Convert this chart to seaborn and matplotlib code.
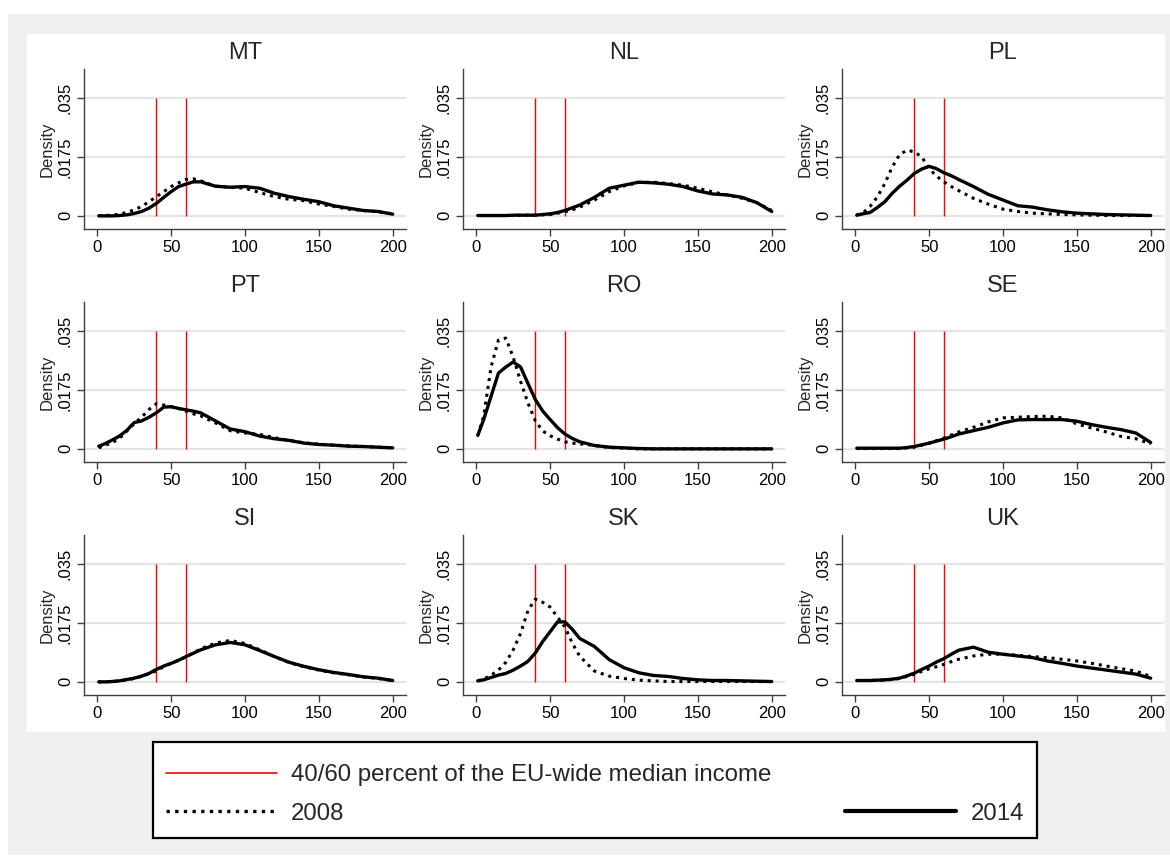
import numpy as np
import pandas as pd
import matplotlib
matplotlib.use("Agg")
import matplotlib.pyplot as plt
import seaborn as sns
from matplotlib.lines import Line2D
from matplotlib.patches import Rectangle

# ---------------- data ----------------
INCOME = [1, 5, 10, 15, 20, 25, 30, 35, 40, 45, 50, 55, 60, 65, 70,
          80, 90, 100, 110, 120, 130, 140, 150, 160, 170, 180, 190, 200]

COUNTRIES = ["MT", "NL", "PL", "PT", "RO", "SE", "SI", "SK", "UK"]
YEARS = ["2008", "2014"]

MT_2008 = [0.0001, 0.0001, 0.0002, 0.0005, 0.0010, 0.0018, 0.0028, 0.0042, 0.0057, 0.0072, 0.0087, 0.0098, 0.0108, 0.0110,
           0.0104, 0.0088, 0.0085, 0.0082, 0.0069, 0.0057, 0.0049, 0.0045, 0.0035, 0.0028, 0.0020, 0.0016, 0.0012, 0.0006]
MT_2014 = [0.0000, 0.0000, 0.0000, 0.0001, 0.0003, 0.0007, 0.0013, 0.0023, 0.0037, 0.0055, 0.0072, 0.0087, 0.0094, 0.0101,
           0.0101, 0.0088, 0.0085, 0.0087, 0.0082, 0.0067, 0.0057, 0.0049, 0.0042, 0.0030, 0.0023, 0.0016, 0.0013, 0.0005]

NL_2008 = [0.0001, 0.0001, 0.0001, 0.0001, 0.0001, 0.0001, 0.0002, 0.0002, 0.0002, 0.0003, 0.0004, 0.0008, 0.0012, 0.0018,
           0.0026, 0.0047, 0.0072, 0.0089, 0.0099, 0.0100, 0.0096, 0.0091, 0.0082, 0.0071, 0.0062, 0.0052, 0.0039, 0.0016]
NL_2014 = [0.0001, 0.0001, 0.0001, 0.0001, 0.0001, 0.0002, 0.0002, 0.0002, 0.0002, 0.0004, 0.0006, 0.0010, 0.0016, 0.0024,
           0.0032, 0.0055, 0.0082, 0.0091, 0.0100, 0.0098, 0.0094, 0.0087, 0.0074, 0.0065, 0.0062, 0.0055, 0.0039, 0.0013]

PL_2008 = [0.0002, 0.0008, 0.0028, 0.0057, 0.0096, 0.0145, 0.0182, 0.0195, 0.0190, 0.0175, 0.0140, 0.0118, 0.0101, 0.0087,
           0.0075, 0.0052, 0.0035, 0.0020, 0.0013, 0.0008, 0.0006, 0.0004, 0.0003, 0.0002, 0.0001, 0.0001, 0.0001, 0.0001]
PL_2014 = [0.0002, 0.0006, 0.0010, 0.0025, 0.0042, 0.0067, 0.0088, 0.0106, 0.0126, 0.0139, 0.0147, 0.0140, 0.0128, 0.0119,
           0.0108, 0.0087, 0.0064, 0.0047, 0.0030, 0.0026, 0.0018, 0.0012, 0.0008, 0.0006, 0.0004, 0.0003, 0.0002, 0.0001]

PT_2008 = [0.0003, 0.0010, 0.0018, 0.0031, 0.0053, 0.0075, 0.0094, 0.0117, 0.0134, 0.0130, 0.0125, 0.0120, 0.0112, 0.0104,
           0.0098, 0.0077, 0.0054, 0.0047, 0.0043, 0.0033, 0.0025, 0.0018, 0.0014, 0.0011, 0.0009, 0.0007, 0.0005, 0.0003]
PT_2014 = [0.0008, 0.0015, 0.0026, 0.0038, 0.0055, 0.0078, 0.0083, 0.0094, 0.0107, 0.0124, 0.0125, 0.0120, 0.0116, 0.0112,
           0.0107, 0.0083, 0.0059, 0.0051, 0.0038, 0.0030, 0.0025, 0.0017, 0.0013, 0.0011, 0.0008, 0.0007, 0.0005, 0.0003]

RO_2008 = [0.0040, 0.0097, 0.0243, 0.0323, 0.0329, 0.0272, 0.0200, 0.0136, 0.0083, 0.0053, 0.0039, 0.0029, 0.0021, 0.0017,
           0.0015, 0.0010, 0.0004, 0.0002, 0.0000, 0.0000, 0.0000, 0.0000, 0.0000, 0.0000, 0.0000, 0.0000, 0.0000, 0.0000]
RO_2014 = [0.0040, 0.0087, 0.0156, 0.0225, 0.0243, 0.0258, 0.0243, 0.0194, 0.0146, 0.0112, 0.0087, 0.0063, 0.0044, 0.0031,
           0.0021, 0.0010, 0.0005, 0.0003, 0.0001, 0.0000, 0.0000, 0.0000, 0.0000, 0.0000, 0.0000, 0.0000, 0.0000, 0.0000]

SE_2008 = [0.0001, 0.0001, 0.0001, 0.0001, 0.0001, 0.0001, 0.0001, 0.0003, 0.0006, 0.0011, 0.0017, 0.0024, 0.0032, 0.0041,
           0.0050, 0.0064, 0.0080, 0.0092, 0.0094, 0.0096, 0.0097, 0.0092, 0.0074, 0.0062, 0.0050, 0.0037, 0.0030, 0.0015]
SE_2014 = [0.0002, 0.0002, 0.0002, 0.0002, 0.0002, 0.0002, 0.0002, 0.0004, 0.0007, 0.0012, 0.0017, 0.0023, 0.0029, 0.0036,
           0.0044, 0.0054, 0.0064, 0.0077, 0.0086, 0.0087, 0.0087, 0.0087, 0.0082, 0.0072, 0.0064, 0.0057, 0.0047, 0.0019]

SI_2008 = [0.0000, 0.0000, 0.0001, 0.0003, 0.0006, 0.0010, 0.0016, 0.0024, 0.0033, 0.0045, 0.0055, 0.0064, 0.0074, 0.0086,
           0.0098, 0.0115, 0.0123, 0.0114, 0.0095, 0.0075, 0.0057, 0.0045, 0.0035, 0.0027, 0.0021, 0.0015, 0.0010, 0.0004]
SI_2014 = [0.0000, 0.0000, 0.0001, 0.0003, 0.0007, 0.0011, 0.0017, 0.0025, 0.0037, 0.0047, 0.0055, 0.0064, 0.0075, 0.0085,
           0.0095, 0.0110, 0.0117, 0.0110, 0.0093, 0.0075, 0.0058, 0.0046, 0.0036, 0.0028, 0.0022, 0.0015, 0.0011, 0.0004]

SK_2008 = [0.0003, 0.0008, 0.0020, 0.0035, 0.0058, 0.0095, 0.0144, 0.0212, 0.0246, 0.0236, 0.0222, 0.0192, 0.0163, 0.0115,
           0.0076, 0.0032, 0.0017, 0.0010, 0.0005, 0.0003, 0.0001, 0.0001, 0.0001, 0.0001, 0.0001, 0.0001, 0.0001, 0.0001]
SK_2014 = [0.0003, 0.0006, 0.0013, 0.0020, 0.0025, 0.0035, 0.0047, 0.0061, 0.0086, 0.0120, 0.0149, 0.0178, 0.0178, 0.0156,
           0.0129, 0.0105, 0.0066, 0.0042, 0.0027, 0.0019, 0.0016, 0.0010, 0.0006, 0.0004, 0.0004, 0.0003, 0.0002, 0.0001]

UK_2008 = [0.0004, 0.0004, 0.0004, 0.0005, 0.0005, 0.0007, 0.0010, 0.0016, 0.0023, 0.0031, 0.0039, 0.0045, 0.0052, 0.0060,
           0.0067, 0.0077, 0.0082, 0.0082, 0.0079, 0.0075, 0.0072, 0.0067, 0.0062, 0.0055, 0.0047, 0.0039, 0.0032, 0.0016]
UK_2014 = [0.0004, 0.0004, 0.0004, 0.0005, 0.0006, 0.0008, 0.0011, 0.0018, 0.0026, 0.0037, 0.0047, 0.0059, 0.0069, 0.0082,
           0.0094, 0.0103, 0.0088, 0.0082, 0.0077, 0.0072, 0.0062, 0.0055, 0.0047, 0.0041, 0.0035, 0.0029, 0.0023, 0.0011]

SERIES = {
    "MT": (MT_2008, MT_2014), "NL": (NL_2008, NL_2014), "PL": (PL_2008, PL_2014),
    "PT": (PT_2008, PT_2014), "RO": (RO_2008, RO_2014), "SE": (SE_2008, SE_2014),
    "SI": (SI_2008, SI_2014), "SK": (SK_2008, SK_2014), "UK": (UK_2008, UK_2014),
}

THRESHOLDS = [40, 60]          # 40/60 percent of EU-wide median income
THRESHOLD_TOP = 0.035
X_TICKS = [0, 50, 100, 150, 200]
Y_TICKS = [0, 0.0175, 0.035]
Y_TICK_LABELS = ["0", ".0175", ".035"]
LEGEND_LABELS = ["40/60 percent of the EU-wide median income", "2008", "2014"]

rows = []
for c in COUNTRIES:
    for yr, vals in zip(YEARS, SERIES[c]):
        for xv, yv in zip(INCOME, vals):
            rows.append({"country": c, "year": yr, "income": xv, "density": yv})
df = pd.DataFrame(rows)

# ---------------- style ----------------
sns.set_style("white")
plt.rcParams["font.family"] = ["Liberation Sans", "DejaVu Sans"]

W, H = 1170, 859
fig = plt.figure(figsize=(W / 100, H / 100), dpi=100, facecolor="white")


def fx(px):
    return px / W


def fy(py):
    return 1 - py / H


# background panels (Stata-like graph region)
fig.add_artist(Rectangle((fx(8), fy(855)), fx(1162), 841 / H, transform=fig.transFigure,
                         facecolor="#efefef", edgecolor="none", zorder=-5))
fig.add_artist(Rectangle((fx(27), fy(732)), fx(1138), 698 / H, transform=fig.transFigure,
                         facecolor="white", edgecolor="none", zorder=-4))

col_left = [84, 463, 842]
row_bottom = [229, 462, 695]
ax_w, ax_h = 322, 160

axis_col = "#404040"
for i, c in enumerate(COUNTRIES):
    r, k = divmod(i, 3)
    ax = fig.add_axes([fx(col_left[k]), fy(row_bottom[r]), fx(ax_w), ax_h / H])
    ax.set_facecolor("white")
    sub = df[df["country"] == c]
    ax.vlines(THRESHOLDS, 0, THRESHOLD_TOP, colors="red", linewidth=1.0, zorder=2)
    sns.lineplot(data=sub, x="income", y="density", style="year", style_order=YEARS,
                 dashes={"2008": (1.0, 1.6), "2014": ""},
                 size="year", sizes={"2008": 2.2, "2014": 2.4},
                 color="black", estimator=None, sort=False, legend=False, ax=ax, zorder=3)
    ax.set_xlim(-9, 209)
    ax.set_ylim(-0.0039, 0.0436)
    ax.set_xticks(X_TICKS)
    ax.set_xticklabels([str(t) for t in X_TICKS])
    ax.set_yticks(Y_TICKS)
    ax.set_yticklabels(Y_TICK_LABELS, rotation=90, va="center")
    ax.yaxis.grid(True, color="#e4e4e4", linewidth=1.6, zorder=0)
    ax.xaxis.grid(False)
    ax.set_axisbelow(True)
    for s in ["top", "right"]:
        ax.spines[s].set_visible(False)
    for s in ["left", "bottom"]:
        ax.spines[s].set_color(axis_col)
        ax.spines[s].set_linewidth(1.0)
    ax.tick_params(axis="both", direction="out", length=5, width=1, color=axis_col,
                   labelsize=12, labelcolor="black", pad=3, left=True, bottom=True)
    ax.set_xlabel("")
    ax.set_ylabel("Density", fontsize=12, labelpad=2)
    ax.set_title(c, fontsize=17, pad=7)

# ---------------- legend ----------------
# legend box (drawn separately to match the reference size)
fig.add_artist(Rectangle((fx(153), fy(838)), fx(1037 - 153), 96 / H, transform=fig.transFigure,
                         facecolor="white", edgecolor="black", linewidth=1.6, zorder=-3))
handles = [
    Line2D([], [], color="red", linewidth=1.2),
    Line2D([], [], color="black", linewidth=2.4, linestyle=(0, (1.0, 1.6))),
    Line2D([], [], linestyle="none"),
    Line2D([], [], color="black", linewidth=3.0),
]
labels = [LEGEND_LABELS[0], LEGEND_LABELS[1], "", LEGEND_LABELS[2]]
leg = fig.legend(handles, labels, ncol=2, mode="expand", loc="lower left",
                 bbox_to_anchor=(fx(153), fy(838), fx(1037 - 153), 96 / H),
                 bbox_transform=fig.transFigure,
                 fontsize=17.3, handlelength=4.6, handletextpad=0.6,
                 labelspacing=0.68, borderpad=0.55, borderaxespad=0.0,
                 frameon=False)

fig.savefig("out.png", dpi=100, facecolor=fig.get_facecolor())
